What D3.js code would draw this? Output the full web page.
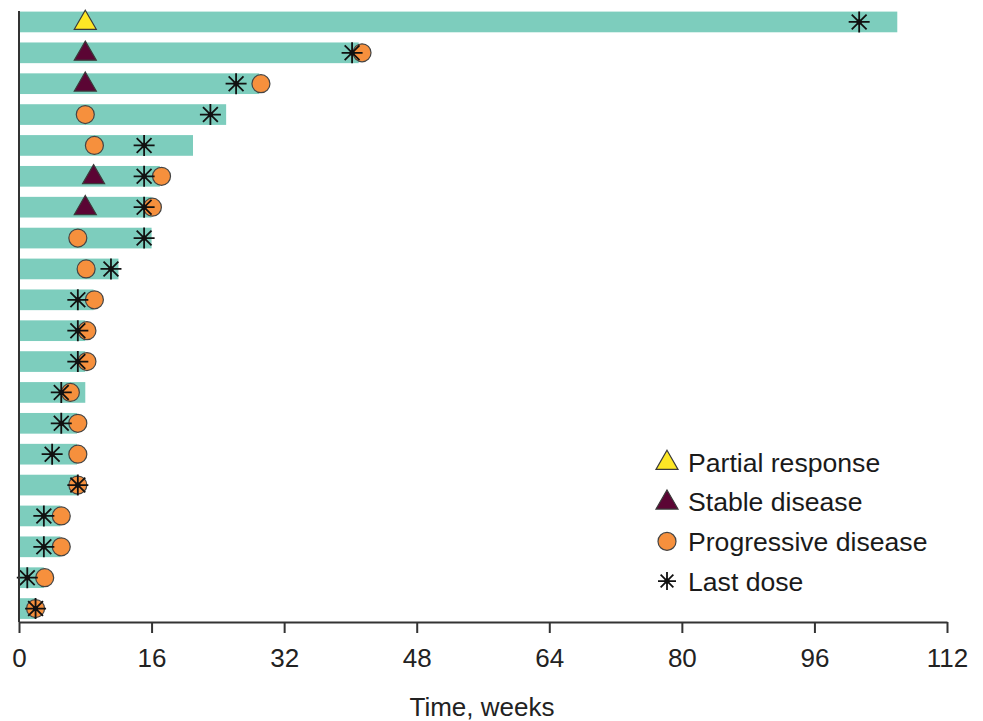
<!DOCTYPE html>
<html>
<head>
<meta charset="utf-8">
<script src="https://cdn.jsdelivr.net/npm/d3@7"></script>
<style>
  body { margin: 0; background: #fff; }
  svg { font-family: "Liberation Sans", Arial, sans-serif; }
</style>
</head>
<body>
<div id="chart"></div>
<script>
// patient rows, top to bottom
var patients = d3.range(1, 21);
var duration = [106, 41, 29, 25, 21, 17, 16, 16, 12, 9, 8, 8, 8, 7, 7, 7, 5, 5, 3, 2];
var partialResponse = [8, null, null, null, null, null, null, null, null, null, null, null, null, null, null, null, null, null, null, null];
var stableDisease = [null, 8, 8, null, null, 9, 8, null, null, null, null, null, null, null, null, null, null, null, null, null];
var progressive = [null, 41.4, 29.2, 8, 9.1, 17.2, 16.1, 7.1, 8.1, 9.1, 8.2, 8.2, 6.2, 7.1, 7.1, 7.1, 5.1, 5.1, 3.1, 2];
var lastDose = [101.4, 40.2, 26.2, 23.1, 15.1, 15.1, 15.1, 15.1, 11.1, 7.1, 7.1, 7.1, 5.1, 5.1, 4, 7.1, 3, 3, 1, 2];
var xTicks = [0, 16, 32, 48, 64, 80, 96, 112];
var legendLabels = ["Partial response", "Stable disease", "Progressive disease", "Last dose"];

function draw() {
  var width = 983, height = 721;
  var x0 = 19, x1 = 947, axisY = 622;

  var svg = d3.select("#chart").append("svg")
      .attr("width", width)
      .attr("height", height);

  var x = d3.scaleLinear().domain([0, 112]).range([x0, x1]);
  var y = d3.scaleBand().domain(patients).range([6.5, 624])
      .paddingInner(0.33).paddingOuter(0.165);
  var cy = i => y(patients[i]) + y.bandwidth() / 2;

  // bars
  svg.append("g").selectAll("rect")
    .data(duration)
    .join("rect")
      .attr("x", x(0))
      .attr("y", (d, i) => y(patients[i]))
      .attr("width", d => x(d) - x(0))
      .attr("height", y.bandwidth())
      .attr("fill", "#7dcdbd");

  // triangles
  var tri = d3.symbol().type(d3.symbolTriangle).size(210);
  function triangles(vals, fill) {
    svg.append("g").selectAll("path")
      .data(vals.map((v, i) => ({v: v, i: i})).filter(d => d.v != null))
      .join("path")
        .attr("d", tri)
        .attr("transform", d => `translate(${x(d.v)},${cy(d.i) + 1})`)
        .attr("fill", fill)
        .attr("stroke", "#3a3a3a")
        .attr("stroke-width", 1.2);
  }
  triangles(partialResponse, "#fde725");
  triangles(stableDisease, "#5b0534");

  // circles
  svg.append("g").selectAll("circle")
    .data(progressive.map((v, i) => ({v: v, i: i})).filter(d => d.v != null))
    .join("circle")
      .attr("cx", d => x(d.v))
      .attr("cy", d => cy(d.i))
      .attr("r", 9)
      .attr("fill", "#f6903d")
      .attr("stroke", "#444")
      .attr("stroke-width", 1.2);

  // asterisks
  function star(g, s) {
    var a = s * 0.707;
    g.append("path")
      .attr("d", `M${-s},0H${s}M0,${-s}V${s}M${-a},${-a}L${a},${a}M${-a},${a}L${a},${-a}`)
      .attr("stroke", "#111")
      .attr("stroke-width", 1.8);
    g.append("circle").attr("r", 2.6).attr("fill", "#111");
  }
  svg.append("g").selectAll("g")
    .data(lastDose.map((v, i) => ({v: v, i: i})))
    .join("g")
      .attr("transform", d => `translate(${x(d.v)},${cy(d.i)})`)
      .each(function() { star(d3.select(this), 10.5); });

  // axes
  svg.append("line")
    .attr("x1", x0).attr("x2", x0).attr("y1", 11).attr("y2", axisY)
    .attr("stroke", "#333").attr("stroke-width", 2);

  var xAxis = svg.append("g")
    .attr("transform", `translate(0,${axisY})`)
    .call(d3.axisBottom(x).tickValues(xTicks).tickSize(11).tickPadding(16).tickSizeOuter(0));
  xAxis.select(".domain").attr("stroke", "#333").attr("stroke-width", 2);
  xAxis.selectAll(".tick line").attr("stroke", "#333").attr("stroke-width", 2);
  xAxis.selectAll(".tick text")
    .attr("font-size", 26)
    .attr("font-family", "Liberation Sans, Arial, sans-serif")
    .attr("fill", "#222");

  svg.append("text")
    .attr("x", (x0 + x1) / 2 - 1)
    .attr("y", 716)
    .attr("text-anchor", "middle")
    .attr("font-size", 26)
    .attr("fill", "#222")
    .text("Time, weeks");

  // legend
  var lg = svg.append("g").attr("transform", "translate(667,462)");
  var rows = lg.selectAll("g")
    .data(legendLabels)
    .join("g")
      .attr("transform", (d, i) => `translate(0,${i * 39.7})`);

  rows.filter((d, i) => i < 2).append("path")
    .attr("d", tri)
    .attr("transform", "translate(0,1)")
    .attr("fill", (d, i) => i == 0 ? "#fde725" : "#5b0534")
    .attr("stroke", "#3a3a3a")
    .attr("stroke-width", 1.2);
  rows.filter((d, i) => i == 2).append("circle")
    .attr("r", 9)
    .attr("fill", "#f6903d")
    .attr("stroke", "#444")
    .attr("stroke-width", 1.2);
  rows.filter((d, i) => i == 3).each(function() { star(d3.select(this), 9); });

  rows.append("text")
    .attr("x", 21)
    .attr("dy", "0.36em")
    .attr("font-size", 26.6)
    .attr("fill", "#1a1a1a")
    .text(d => d);
}

draw();
</script>
</body>
</html>
